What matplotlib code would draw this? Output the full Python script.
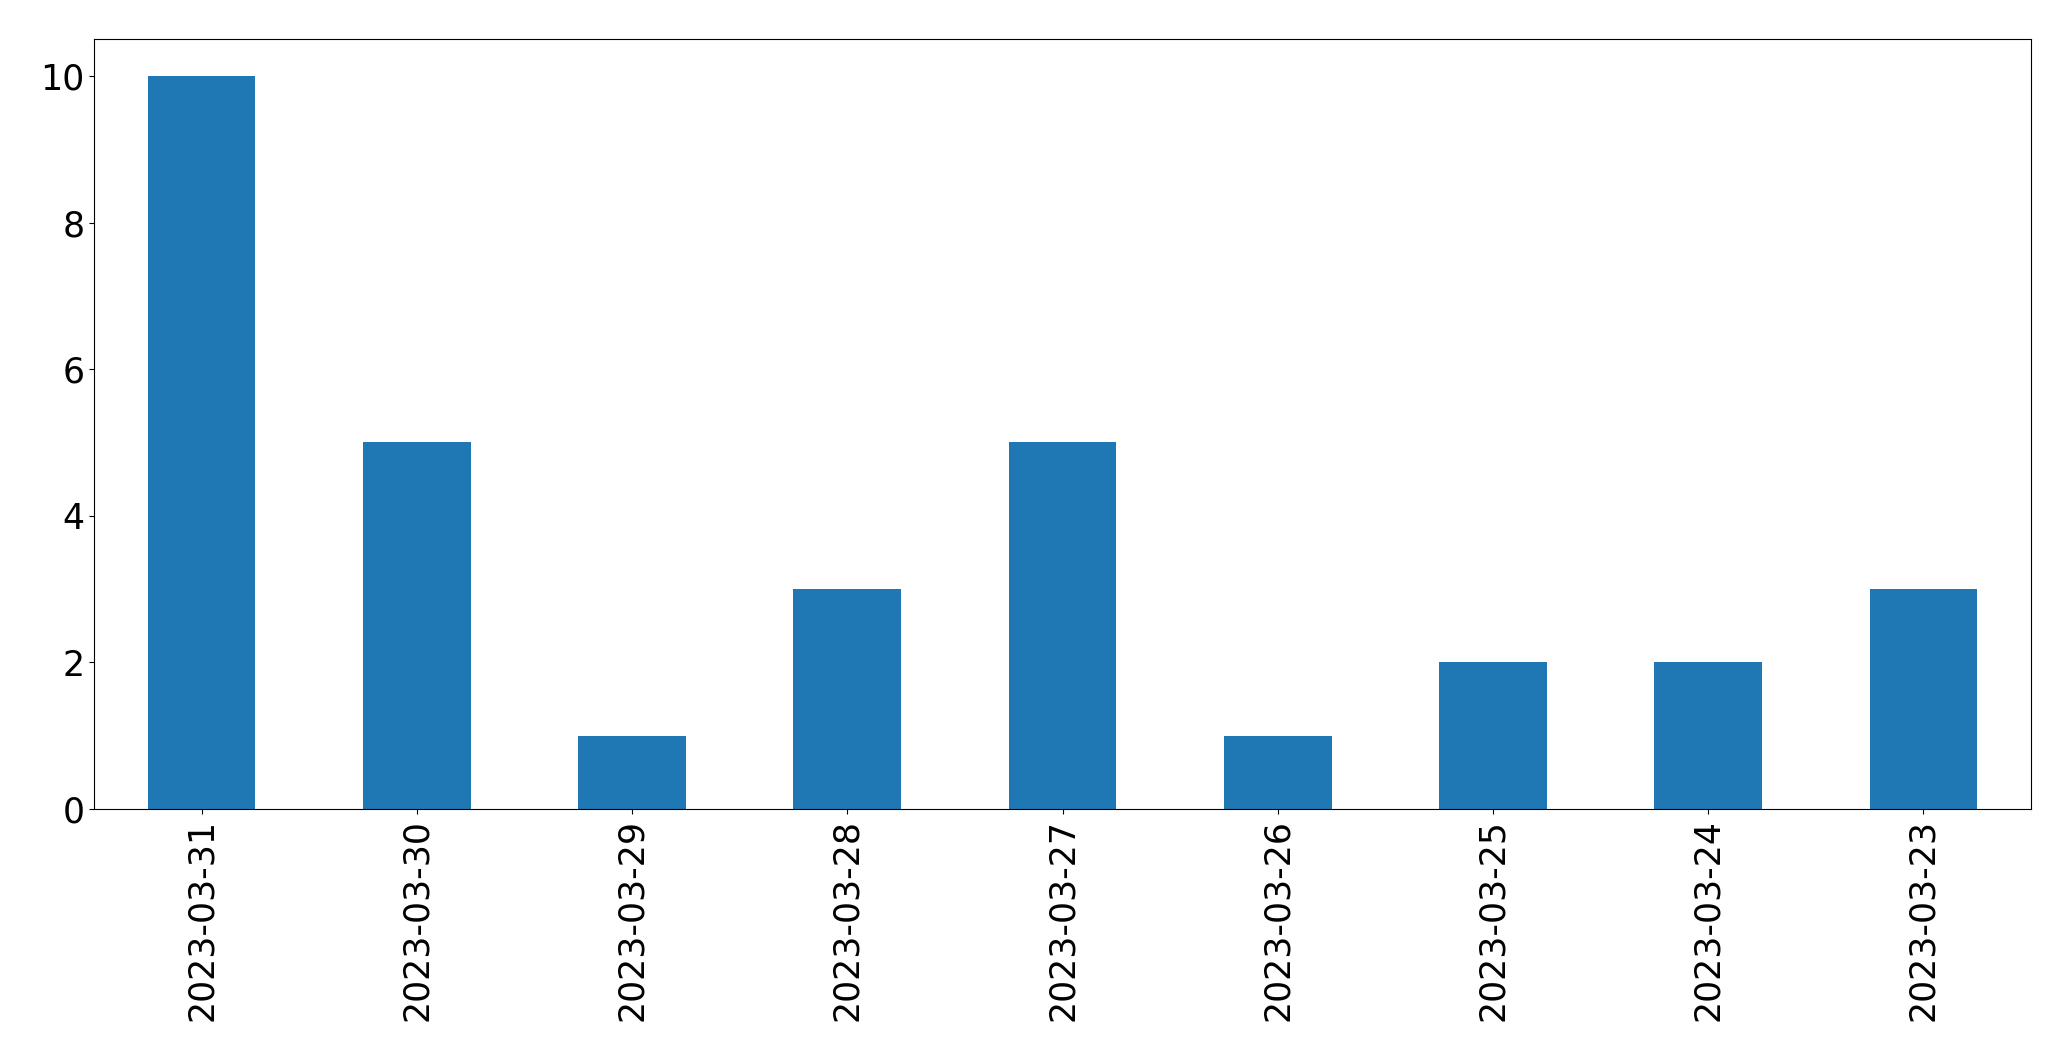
import pandas as pd
import matplotlib
matplotlib.use("Agg")
import matplotlib.pyplot as plt

dates = ['2023-03-31', '2023-03-30', '2023-03-29', '2023-03-28', '2023-03-27',
         '2023-03-26', '2023-03-25', '2023-03-24', '2023-03-23']
counts = [10, 5, 1, 3, 5, 1, 2, 2, 3]

s = pd.Series(counts, index=dates)

fig, ax = plt.subplots(figsize=(20.71, 10.61), dpi=100)
s.plot(kind='bar', ax=ax, color='#1f77b4', fontsize=25)
ax.tick_params(axis='both', labelsize=25)
plt.subplots_adjust(left=0.0454, right=0.9807, top=0.963, bottom=0.2375)
plt.savefig('out.png', dpi=100)
